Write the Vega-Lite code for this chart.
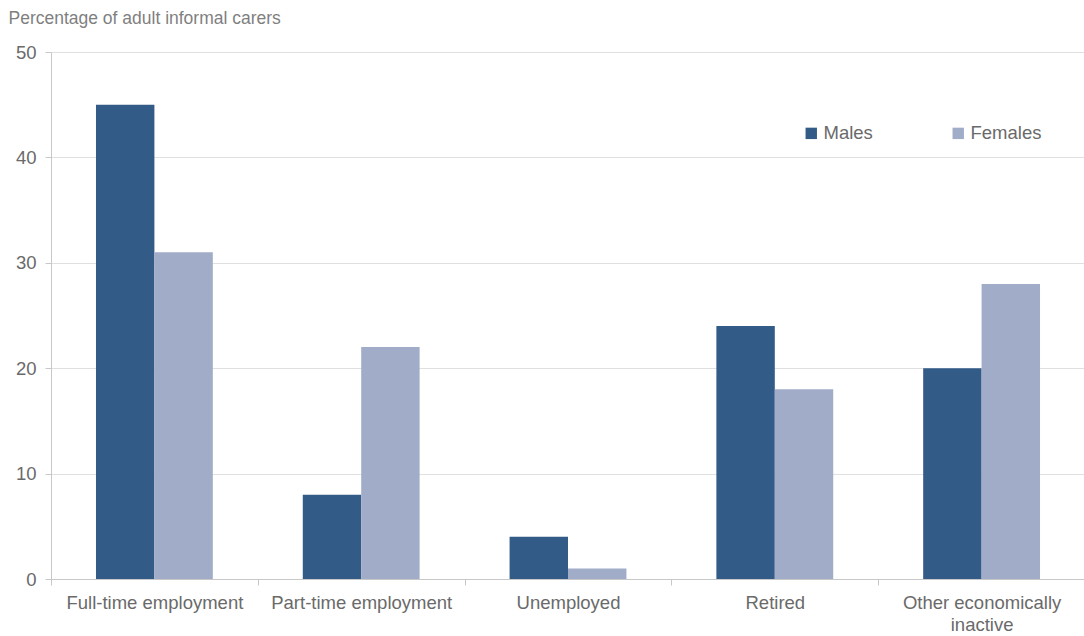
{
  "$schema": "https://vega.github.io/schema/vega-lite/v6.json",
  "width": 1034,
  "height": 527,
  "autosize": {"type": "none"},
  "padding": {"left": 51, "top": 52, "right": 0, "bottom": 57},
  "background": "white",
  "config": {
    "view": {"stroke": null},
    "font": "Liberation Sans"
  },
  "data": {
    "values": [
      {"status": "Full-time employment", "sex": "Males", "pct": 45},
      {"status": "Full-time employment", "sex": "Females", "pct": 31},
      {"status": "Part-time employment", "sex": "Males", "pct": 8},
      {"status": "Part-time employment", "sex": "Females", "pct": 22},
      {"status": "Unemployed", "sex": "Males", "pct": 4},
      {"status": "Unemployed", "sex": "Females", "pct": 1},
      {"status": "Retired", "sex": "Males", "pct": 24},
      {"status": "Retired", "sex": "Females", "pct": 18},
      {"status": "Other economically inactive", "sex": "Males", "pct": 20},
      {"status": "Other economically inactive", "sex": "Females", "pct": 28}
    ]
  },
  "mark": {"type": "bar"},
  "encoding": {
    "x": {
      "field": "status",
      "type": "nominal",
      "sort": null,
      "scale": {"paddingInner": 0, "paddingOuter": 0},
      "axis": {
        "title": null,
        "labelAngle": 0,
        "labelFontSize": 18.5,
        "labelColor": "#6a6a6a",
        "labelPadding": 8,
        "labelLineHeight": 22,
        "labelLimit": 400,
        "labelOverlap": false,
        "labelExpr": "datum.label == 'Other economically inactive' ? ['Other economically', 'inactive'] : datum.label",
        "ticks": true,
        "tickBand": "extent",
        "tickSize": 6,
        "tickColor": "#c8c8c8",
        "domainColor": "#c8c8c8",
        "grid": false
      }
    },
    "xOffset": {
      "field": "sex",
      "type": "nominal",
      "sort": ["Males", "Females"],
      "scale": {"paddingInner": 0, "paddingOuter": 0.77}
    },
    "y": {
      "field": "pct",
      "type": "quantitative",
      "scale": {"domain": [0, 50]},
      "axis": {
        "title": "Percentage of adult informal carers",
        "titleAngle": 0,
        "titleAlign": "left",
        "titleBaseline": "middle",
        "titleX": -43,
        "titleY": -34,
        "titleFontSize": 17.5,
        "titleFontWeight": "normal",
        "titleColor": "#7f7f7f",
        "values": [0, 10, 20, 30, 40, 50],
        "labelFontSize": 18.5,
        "labelColor": "#6a6a6a",
        "labelPadding": 9,
        "tickSize": 6,
        "tickColor": "#c8c8c8",
        "domainColor": "#c8c8c8",
        "gridColor": "#e0e0e0"
      }
    },
    "color": {
      "field": "sex",
      "type": "nominal",
      "sort": ["Males", "Females"],
      "scale": {"domain": ["Males", "Females"], "range": ["#335b87", "#a1acc8"]},
      "legend": {
        "title": null,
        "orient": "none",
        "legendX": 751,
        "legendY": 72,
        "direction": "horizontal",
        "symbolType": "square",
        "symbolSize": 130,
        "symbolStrokeWidth": 0,
        "labelFontSize": 18.5,
        "labelColor": "#6a6a6a",
        "labelOffset": 3,
        "columnPadding": 76
      }
    }
  }
}
